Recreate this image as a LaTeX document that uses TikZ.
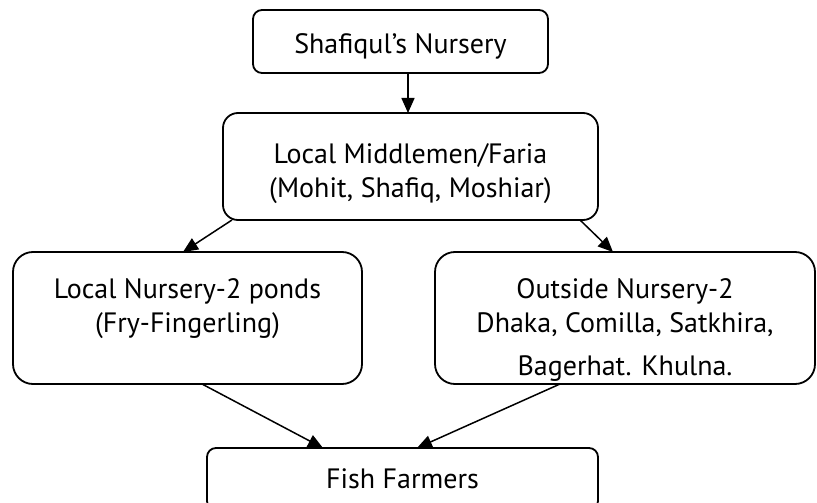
\documentclass[tikz,border=0pt]{standalone}
\usepackage{fontspec}
\setmainfont{PT Sans}
\usetikzlibrary{arrows.meta,positioning}

\begin{document}
\begin{tikzpicture}[x=1pt,y=-1pt,>={Triangle[length=15pt,width=13pt]},
        box/.style={draw,line width=1.8pt,rounded corners=#1,inner sep=0pt,outer sep=0pt,
          align=center,font=\fontsize{28}{34}\selectfont},
        box/.default=9pt]

        \path[use as bounding box] (0,0) rectangle (817,503);
        \clip (0,0) rectangle (817,503);

        \node[box,minimum width=295pt,text height=44pt,text depth=19pt,anchor=north]
                (nursery) at (400.5,10) {Shafiqul's Nursery};
        \node[box=15pt,minimum width=375pt,text height=84pt,text depth=23pt]
                (middle) [below=40pt of nursery,xshift=10pt] {Local Middlemen/Faria\\(Mohit, Shafiq, Moshiar)};
        \node[box=20pt,minimum width=349pt,text height=80pt,text depth=52pt,anchor=north]
                (local) at (187.5,252) {Local Nursery-2 ponds\\(Fry-Fingerling)};
        \node[box=20pt,minimum width=380pt,text height=123pt,text depth=9pt,anchor=north]
                (outside) at (625,252) {Outside Nursery-2\\Dhaka, Comilla, Satkhira,\\[9pt]Bagerhat. Khulna.};
        \node[box,minimum width=391pt,text height=40pt,text depth=22pt,anchor=north]
                (farmers) at (402.5,448) {Fish Farmers};

        \path[->,line width=1.5pt]
                ([xshift=7.5pt]nursery.south)     edge ([xshift=-2.5pt]middle.north)
                ([xshift=9pt]middle.south west)   edge ([xshift=-4.5pt]local.north)
                ([xshift=-18pt]middle.south east) edge ([xshift=-12pt]outside.north)
                ([xshift=14.5pt]local.south)      edge ([xshift=-79.5pt]farmers.north)
                ([xshift=-65pt]outside.south)     edge ([xshift=14.5pt]farmers.north);
      \end{tikzpicture}
\end{document}
